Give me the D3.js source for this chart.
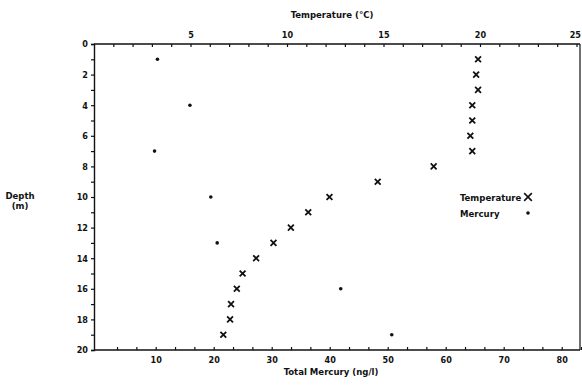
<!DOCTYPE html>
<html>
<head>
<meta charset="utf-8">
<script src="https://cdn.jsdelivr.net/npm/d3@7"></script>
<style>
  body { margin: 0; background: #fff; }
  text { font-family: "DejaVu Sans Condensed", "DejaVu Sans", sans-serif; font-weight: bold; fill: #111; }
</style>
</head>
<body>
<div id="chart"></div>
<script>
// depth (m) for each sample
const tempDepths = [1, 2, 3, 4, 5, 6, 7, 8, 9, 10, 11, 12, 13, 14, 15, 16, 17, 18, 19];
const tempValues = [19.9, 19.8, 19.9, 19.6, 19.6, 19.5, 19.6, 17.6, 14.7, 12.2, 11.1, 10.2, 9.3, 8.4, 7.7, 7.4, 7.1, 7.05, 6.7];

const mercuryDepths = [1, 4, 7, 10, 13, 16, 19];
const mercuryValues = [10.3, 15.9, 9.8, 19.5, 20.6, 41.9, 50.7];

const depthTicks = [0, 2, 4, 6, 8, 10, 12, 14, 16, 18, 20];
const tempTicks = [5, 10, 15, 20, 25];
const mercuryTicks = [10, 20, 30, 40, 50, 60, 70, 80];

const width = 582, height = 387;
const plotL = 94, plotR = 580, plotT = 44, plotB = 350;

const svg = d3.select('#chart')
  .append('svg')
  .attr('width', width)
  .attr('height', height);

// scales
const y = d3.scaleLinear().domain([0, 20]).range([plotT, plotB]);
const xTemp = d3.scaleLinear().domain([0, 25]).range([plotL, plotL + 25 * 19.3]);
const xHg = d3.scaleLinear().domain([0, 80]).range([97.7, 97.7 + 80 * 5.8]);

// frame
svg.append('line').attr('x1', plotR).attr('x2', plotR).attr('y1', plotT).attr('y2', plotB)
  .attr('stroke', '#111').attr('stroke-width', 1.2);

// left axis - depth
const yAxis = svg.append('g')
  .attr('transform', `translate(${plotL},0)`)
  .call(d3.axisLeft(y).tickValues(d3.range(0, 21, 1)).tickSize(3).tickFormat(d => depthTicks.includes(d) ? d : ''));

// top axis - temperature
const topAxis = svg.append('g')
  .attr('transform', `translate(0,${plotT})`)
  .call(d3.axisTop(xTemp).tickValues(d3.range(1, 26, 1)).tickSize(-3).tickPadding(6)
    .tickFormat(d => tempTicks.includes(d) ? d : ''));
// last label sits at the page edge, keep it inside
topAxis.selectAll('.tick text').filter(d => d === 25).attr('text-anchor', 'end').attr('dx', 4);

// bottom axis - mercury (3 minor ticks per 10)
const hgMinor = d3.range(0, 84, 10 / 3).filter(d => d > 1);
const bottomAxis = svg.append('g')
  .attr('transform', `translate(0,${plotB})`)
  .call(d3.axisBottom(xHg).tickValues(hgMinor).tickSize(-3).tickPadding(7)
    .tickFormat(d => {
      const r = Math.round(d);
      return (Math.abs(d - r) < 0.01 && mercuryTicks.includes(r)) ? r : '';
    }));

[yAxis, topAxis, bottomAxis].forEach(g => {
  g.select('.domain').attr('stroke', '#111').attr('stroke-width', 1.4);
  g.selectAll('.tick line').attr('stroke', '#111').attr('stroke-width', 1.2);
  g.selectAll('.tick text').attr('font-size', 9).attr('fill', '#111')
    .attr('font-family', '"DejaVu Sans Condensed", sans-serif').attr('font-weight', 'bold');
});
topAxis.select('.domain').attr('d', `M${plotL},0H${plotR}`);
bottomAxis.select('.domain').attr('d', `M${plotL},0H${plotR}`);

// axis titles
svg.append('text').attr('x', 332).attr('y', 18).attr('text-anchor', 'middle')
  .attr('font-size', 9.5).text('Temperature (°C)');
svg.append('text').attr('x', 331).attr('y', 375).attr('text-anchor', 'middle')
  .attr('font-size', 9.5).text('Total Mercury (ng/l)');
svg.append('text').attr('x', 20).attr('y', 199).attr('text-anchor', 'middle')
  .attr('font-size', 9.5).text('Depth');
svg.append('text').attr('x', 20).attr('y', 209).attr('text-anchor', 'middle')
  .attr('font-size', 9.5).text('(m)');

// temperature markers
const xSym = d3.symbol().type(d3.symbolX).size(24);
svg.append('g')
  .selectAll('path')
  .data(tempDepths.map((d, i) => ({ depth: d, t: tempValues[i] })))
  .enter()
  .append('path')
  .attr('d', xSym)
  .attr('transform', d => `translate(${xTemp(d.t)},${y(d.depth)})`)
  .attr('fill', 'none')
  .attr('stroke', '#111')
  .attr('stroke-width', 1.8);

// mercury dots
svg.append('g')
  .selectAll('circle')
  .data(mercuryDepths.map((d, i) => ({ depth: d, hg: mercuryValues[i] })))
  .enter()
  .append('circle')
  .attr('cx', d => xHg(d.hg))
  .attr('cy', d => y(d.depth))
  .attr('r', 1.8)
  .attr('fill', '#111');

// legend
const legend = svg.append('g').attr('transform', 'translate(460,0)');
legend.append('text').attr('x', 0).attr('y', 201).attr('font-size', 9.5).text('Temperature');
legend.append('text').attr('x', 0).attr('y', 217).attr('font-size', 9.5).text('Mercury');
legend.append('path').attr('d', d3.symbol().type(d3.symbolX).size(40))
  .attr('transform', 'translate(68,197)').attr('fill', 'none').attr('stroke', '#111').attr('stroke-width', 1.6);
legend.append('circle').attr('cx', 68).attr('cy', 213).attr('r', 1.8).attr('fill', '#111');
</script>
</body>
</html>
